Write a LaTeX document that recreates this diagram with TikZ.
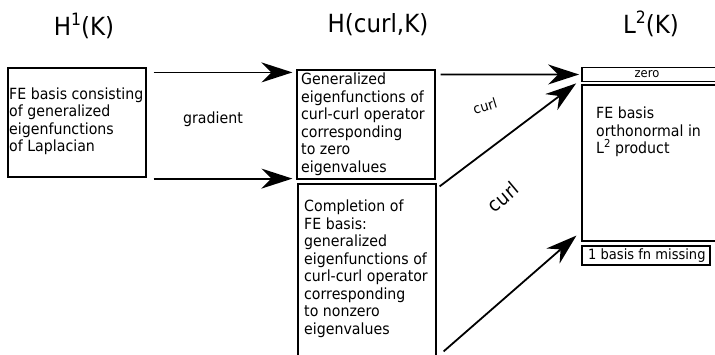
\documentclass[tikz,border=0pt]{standalone}
\usepackage{fontspec}
\setmainfont{DejaVu Sans}[FakeStretch=0.92]
\usetikzlibrary{arrows.meta,calc}
\begin{document}
\begin{tikzpicture}[x=1pt,y=-1pt,
  box/.style={draw,line width=1.2pt,rectangle,inner sep=0pt},
  body/.style={font=\fontsize{15.4}{17.5}\selectfont,align=left,inner sep=0pt},
  ttl/.style={font=\fontsize{25}{25}\selectfont,inner sep=0pt,anchor=base},
  arr/.style={line width=1.8pt,-{Stealth[length=31pt,width=20pt,inset=10pt]}},
  lbl/.style={inner sep=0pt},
]
\useasboundingbox (0,0) rectangle (715,354);
% titles
\node[ttl] (t1) at (84,35) {H\raisebox{10pt}{\fontsize{17}{17}\selectfont 1}(K)};
\node[ttl] (t2) at (378,32) {H(curl,K)};
\node[ttl] (t3) at (651,33) {L\raisebox{10pt}{\fontsize{17}{17}\selectfont 2}(K)};
% boxes
\node[box,minimum width=138pt,minimum height=109pt] (L) at (77,122.5) {};
\node[body,anchor=west] (Lt) at (9,121) {FE basis consisting\\of generalized\\eigenfunctions\\of Laplacian};
\node[box,minimum width=138pt,minimum height=109pt] (MT) at (366,124.5) {};
\node[body,anchor=west] (MTt) at (301,124) {Generalized\\eigenfunctions of\\curl-curl operator\\corresponding\\to zero\\eigenvalues};
\node[box,minimum width=138pt,minimum height=200pt] (MB) at (367,284) {};
\node[body,anchor=north west] (MBt) at (304,200) {Completion of\\FE basis:\\generalized\\eigenfunctions of\\curl-curl operator\\corresponding\\to nonzero\\eigenvalues};
\node[box,line width=1.8pt,minimum width=160pt,minimum height=14pt] (Z) at (662,74.5) {};
\node[lbl,font=\fontsize{12.5}{12.5}\selectfont] (Zt) at (647,74.5) {zero};
\node[box,minimum width=160pt,minimum height=156pt] (B) at (662,163) {};
\node[body,anchor=north west] (Bt) at (596,107) {FE basis\\orthonormal in\\L\raisebox{6pt}{\fontsize{11}{11}\selectfont 2} product};
\node[box,minimum width=128pt,minimum height=19pt] (M) at (646,255.5) {};
\node[body,font=\fontsize{14.2}{17}\selectfont,anchor=west] (Mt) at (588,255.5) {1 basis fn missing};
% arrows
\draw[arr] ($(L.north east)+(7,5)$) -- ($(MT.north west)+(-4,3)$);
\draw[arr] ($(L.south east)+(7,1)$) -- ($(MT.south west)+(-4,-1)$);
\node[lbl,font=\fontsize{15.4}{15.4}\selectfont] (g) at (213,119) {gradient};
\draw[arr] ($(MT.north east)+(5,5)$) -- ($(Z.west)+(-2,0)$);
\draw[arr] ($(MB.north east)+(3,3)$) -- ($(Z.south west)+(-5,1)$);
\draw[arr] ($(MB.north east)+(7,168)$) -- ($(B.south west)+(-5,-6)$);
\node[lbl,font=\fontsize{14}{14}\selectfont,rotate=17] (c1) at (485,106) {curl};
\node[lbl,font=\fontsize{19.5}{19.5}\selectfont,rotate=40] (c2) at (503,197) {curl};
\end{tikzpicture}
\end{document}
